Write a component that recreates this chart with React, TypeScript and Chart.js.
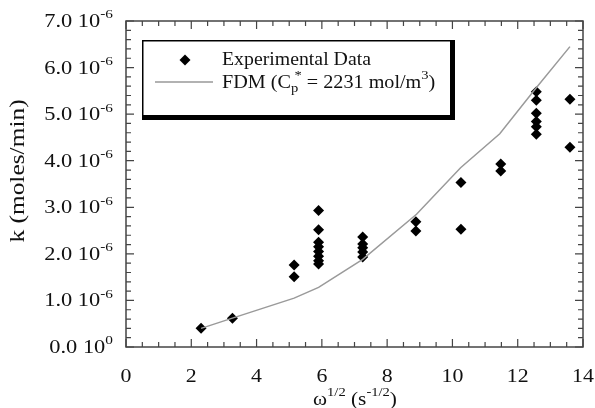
import { useEffect, useRef } from "react";
import { Chart, registerables } from "chart.js";

Chart.register(...registerables);

// Experimental data: omega^(1/2) (s^-1/2) and k (moles/min)
const expX = [
  2.3, 3.26,
  5.15, 5.15,
  5.9, 5.9, 5.9, 5.9, 5.9, 5.9, 5.9, 5.9,
  7.25, 7.25, 7.25, 7.25, 7.25,
  8.88, 8.88,
  10.26, 10.26,
  11.48, 11.48,
  12.57, 12.57, 12.57, 12.57, 12.57, 12.57,
  13.6, 13.6,
];
const expY = [
  0.40e-6, 0.62e-6,
  1.76e-6, 1.51e-6,
  2.93e-6, 2.52e-6, 2.25e-6, 2.15e-6, 2.05e-6, 1.95e-6, 1.85e-6, 1.78e-6,
  2.36e-6, 2.21e-6, 2.13e-6, 2.04e-6, 1.93e-6,
  2.69e-6, 2.49e-6,
  3.53e-6, 2.53e-6,
  3.93e-6, 3.78e-6,
  5.48e-6, 5.30e-6, 5.02e-6, 4.84e-6, 4.73e-6, 4.57e-6,
  5.32e-6, 4.29e-6,
];

// FDM model curve
const fdmX = [2.3, 3.26, 5.15, 5.9, 7.25, 8.9, 10.25, 11.45, 12.55, 13.6];
const fdmY = [0.40e-6, 0.62e-6, 1.05e-6, 1.28e-6, 1.88e-6, 2.85e-6, 3.85e-6, 4.58e-6, 5.55e-6, 6.45e-6];

// Axis ticks
const xTicks = [0, 2, 4, 6, 8, 10, 12, 14];
const yTickMantissa = ["0.0", "1.0", "2.0", "3.0", "4.0", "5.0", "6.0", "7.0"];
const yTickValues = [0, 1e-6, 2e-6, 3e-6, 4e-6, 5e-6, 6e-6, 7e-6];
const yTickExp = ["0", "-6", "-6", "-6", "-6", "-6", "-6", "-6"];

const legendLabels = ["Experimental Data", "FDM"];

const FONT = '"Liberation Serif", "Times New Roman", serif';

type Seg = { t: string; size: number; dy?: number; stack?: boolean };

function richWidth(ctx: CanvasRenderingContext2D, segs: Seg[], sx: number) {
  let w = 0;
  let pending = 0;
  for (const s of segs) {
    ctx.font = `${s.size}px ${FONT}`;
    const sw = ctx.measureText(s.t).width * sx;
    if (s.stack) {
      pending = Math.max(pending, sw);
    } else {
      w += Math.max(pending, sw);
      pending = 0;
    }
  }
  return w + pending;
}

function drawRich(
  ctx: CanvasRenderingContext2D,
  segs: Seg[],
  x: number,
  y: number,
  align: "left" | "center" | "right",
  sx = 1.15
) {
  const w = richWidth(ctx, segs, sx);
  let cx = align === "left" ? x : align === "center" ? x - w / 2 : x - w;
  let pending = 0;
  ctx.textBaseline = "middle";
  ctx.textAlign = "left";
  ctx.fillStyle = "#111";
  for (const s of segs) {
    ctx.font = `${s.size}px ${FONT}`;
    const sw = ctx.measureText(s.t).width * sx;
    ctx.save();
    ctx.translate(cx, y + (s.dy || 0));
    ctx.scale(sx, 1);
    ctx.fillText(s.t, 0, 0);
    ctx.restore();
    if (s.stack) {
      pending = Math.max(pending, sw);
    } else {
      cx += Math.max(pending, sw);
      pending = 0;
    }
  }
}

const decorPlugin = {
  id: "decor",
  afterDraw(chart: any) {
    const ctx: CanvasRenderingContext2D = chart.ctx;
    const { left, right, top, bottom } = chart.chartArea;
    const xs = chart.scales.x;
    const ys = chart.scales.y;
    ctx.save();

    // frame
    ctx.strokeStyle = "#444";
    ctx.lineWidth = 1.5;
    ctx.strokeRect(left, top, right - left, bottom - top);

    // x ticks (major every 2, minor every 0.5)
    ctx.lineWidth = 1.2;
    ctx.beginPath();
    for (let v = 0; v <= 14.001; v += 0.5) {
      const px = xs.getPixelForValue(v);
      const major = Math.abs(v / 2 - Math.round(v / 2)) < 1e-6;
      const len = major ? 8 : 5;
      ctx.moveTo(px, bottom);
      ctx.lineTo(px, bottom - len);
      ctx.moveTo(px, top);
      ctx.lineTo(px, top + len);
    }
    // y ticks (major every 1e-6, minor every 0.2e-6)
    for (let i = 0; i <= 35; i++) {
      const v = i * 0.2e-6;
      const py = ys.getPixelForValue(v);
      const major = i % 5 === 0;
      const len = major ? 8 : 5;
      ctx.moveTo(left, py);
      ctx.lineTo(left + len, py);
      ctx.moveTo(right, py);
      ctx.lineTo(right - len, py);
    }
    ctx.stroke();

    // x tick labels
    for (const v of xTicks) {
      drawRich(ctx, [{ t: String(v), size: 19 }], xs.getPixelForValue(v), bottom + 30, "center", 1.15);
    }
    // y tick labels
    yTickValues.forEach((v, i) => {
      drawRich(
        ctx,
        [
          { t: yTickMantissa[i] + " 10", size: 19 },
          { t: yTickExp[i], size: 13, dy: -7 },
        ],
        left - 13,
        ys.getPixelForValue(v) + 1,
        "right",
        1.18
      );
    });

    // x title
    drawRich(
      ctx,
      [
        { t: "\u03c9", size: 19 },
        { t: "1/2", size: 13, dy: -7 },
        { t: " (s", size: 19 },
        { t: "-1/2", size: 13, dy: -7 },
        { t: ")", size: 19 },
      ],
      355,
      bottom + 53,
      "center",
      1.12
    );

    // y title
    ctx.save();
    ctx.translate(19, 171);
    ctx.rotate(-Math.PI / 2);
    drawRich(ctx, [{ t: "k (moles/min)", size: 20 }], 0, 0, "center", 1.27);
    ctx.restore();

    // legend box with shadow
    const bx = 142, by = 40, bw = 308, bh = 75;
    ctx.fillStyle = "#000";
    ctx.fillRect(bx, by, bw + 5, bh + 5);
    ctx.fillStyle = "#fff";
    ctx.fillRect(bx + 1.5, by + 1.5, bw - 1.5, bh - 1.5);

    // legend entry 1: diamond
    const r = 5.5;
    ctx.fillStyle = "#000";
    ctx.beginPath();
    ctx.moveTo(185 - r, 60);
    ctx.lineTo(185, 60 - r);
    ctx.lineTo(185 + r, 60);
    ctx.lineTo(185, 60 + r);
    ctx.closePath();
    ctx.fill();
    drawRich(ctx, [{ t: legendLabels[0], size: 18 }], 222, 60, "left", 1.1);

    // legend entry 2: line
    ctx.strokeStyle = "#999";
    ctx.lineWidth = 1.5;
    ctx.beginPath();
    ctx.moveTo(155, 82);
    ctx.lineTo(213, 82);
    ctx.stroke();
    drawRich(
      ctx,
      [
        { t: legendLabels[1] + " (C", size: 18 },
        { t: "p", size: 13, dy: 6, stack: true },
        { t: " *", size: 13, dy: -7 },
        { t: " = 2231 mol/m", size: 18 },
        { t: "3", size: 13, dy: -7 },
        { t: ")", size: 18 },
      ],
      222,
      83,
      "left",
      1.12
    );

    ctx.restore();
  },
};

export default function App() {
  const ref = useRef<HTMLCanvasElement | null>(null);
  useEffect(() => {
    document.body.style.margin = "0";
    const canvas = ref.current!;
    const chart = new Chart(canvas, {
      type: "scatter",
      data: {
        datasets: [
          {
            type: "line",
            label: "FDM",
            data: fdmX.map((x, i) => ({ x, y: fdmY[i] })),
            borderColor: "#9a9a9a",
            borderWidth: 1.5,
            pointRadius: 0,
            fill: false,
            tension: 0,
          },
          {
            type: "scatter",
            label: "Experimental Data",
            data: expX.map((x, i) => ({ x, y: expY[i] })),
            backgroundColor: "#000",
            borderWidth: 0,
            pointStyle: "rectRot",
            pointRadius: 5.5,
          },
        ],
      },
      options: {
        animation: false,
        responsive: false,
        devicePixelRatio: 1,
        layout: { padding: { top: 21, right: 12, left: 0, bottom: 0 } },
        plugins: { legend: { display: false }, tooltip: { enabled: false } },
        scales: {
          x: {
            type: "linear",
            min: 0,
            max: 14,
            grid: { display: false },
            border: { display: false },
            ticks: { display: false },
            afterFit: (s: any) => {
              s.height = 61;
            },
          },
          y: {
            type: "linear",
            min: 0,
            max: 7e-6,
            grid: { display: false },
            border: { display: false },
            ticks: { display: false },
            afterFit: (s: any) => {
              s.width = 126;
            },
          },
        },
      },
      plugins: [decorPlugin],
    });
    return () => chart.destroy();
  }, []);
  return (
    <div style={{ width: 595, height: 408, background: "#fff" }}>
      <canvas ref={ref} width={595} height={408} style={{ display: "block" }} />
    </div>
  );
}
